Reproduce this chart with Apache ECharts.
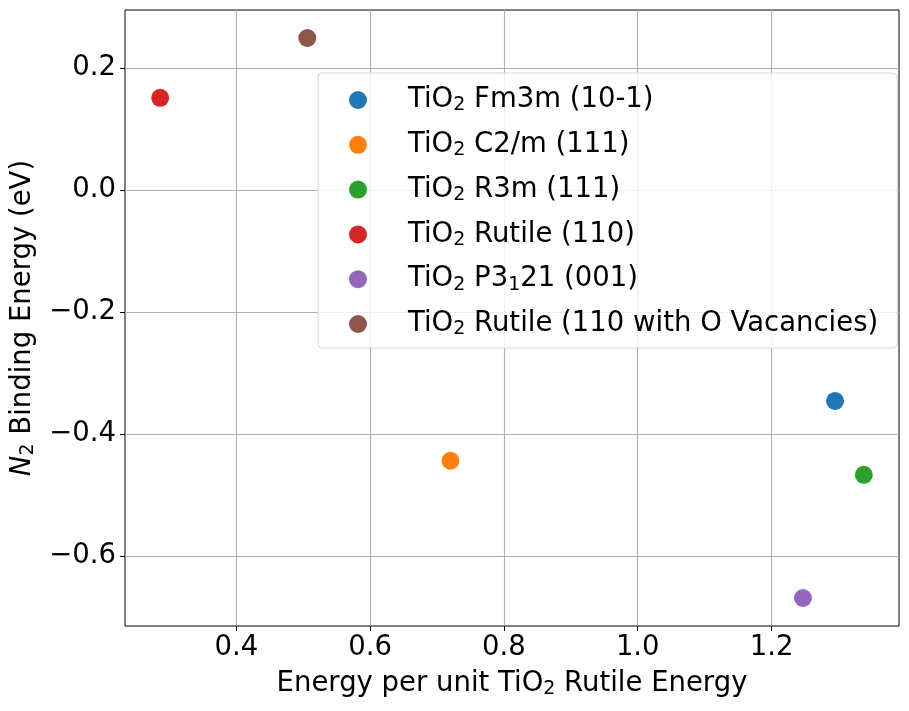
<!DOCTYPE html>
<html>
<head>
<meta charset="utf-8">
<script src="https://cdn.jsdelivr.net/npm/echarts@6/dist/echarts.min.js"></script>
<style>
  html, body { margin: 0; padding: 0; background: #fff; }
  #chart { width: 909px; height: 711px; }
</style>
</head>
<body>
<div id="chart"></div>
<script>
// one point per surface
var names = [
    'TiO₂ Fm3m (10-1)',
    'TiO₂ C2/m (111)',
    'TiO₂ R3m (111)',
    'TiO₂ Rutile (110)',
    'TiO₂ P3₁21 (001)',
    'TiO₂ Rutile (110 with O Vacancies)'
];
var energyPerUnit = [1.295, 0.720, 1.338, 0.286, 1.247, 0.506];
var bindingEnergy = [-0.346, -0.444, -0.467, 0.151, -0.669, 0.249];
var colors = ['#1f77b4', '#ff7f0e', '#2ca02c', '#d62728', '#9467bd', '#8c564b'];
var xTicks = [0.4, 0.6, 0.8, 1.0, 1.2];
var yTicks = [-0.6, -0.4, -0.2, 0.0, 0.2];

// matplotlib style 5% margins around the data
function padRange(arr) {
    var lo = Math.min.apply(null, arr), hi = Math.max.apply(null, arr);
    var m = (hi - lo) * 0.05;
    return [lo - m, hi + m];
}
var xr = padRange(energyPerUnit);
var yr = padRange(bindingEnergy);

function fmt(v) {
    return v.toFixed(1).replace('-', '\u2212');
}

// turn unicode subscripts into rich text pieces (mathtext look)
function subs(s) {
    return '{n|' + s.replace(/₂/g, '}{s|2}{n|').replace(/₁/g, '}{s|1}{n|') + '}';
}

var font = 'DejaVu Sans';
var big = 27.5;
var richSub = {
    n: { fontFamily: font, fontSize: big, color: '#000' },
    s: { fontFamily: font, fontSize: 19, lineHeight: 16, verticalAlign: 'bottom', color: '#000' },
    i: { fontFamily: font, fontSize: big, fontStyle: 'italic', color: '#000' }
};

var chart = echarts.init(document.getElementById('chart'));

var series = names.map(function (n, i) {
    return {
        name: n,
        type: 'scatter',
        symbolSize: 18,
        itemStyle: { color: colors[i], opacity: 1 },
        data: [[energyPerUnit[i], bindingEnergy[i]]]
    };
});

var option = {
    animation: false,
    backgroundColor: '#fff',
    textStyle: { fontFamily: font },
    grid: {
        left: 125, right: 10, top: 10, bottom: 85,
        show: true, borderColor: '#000', borderWidth: 1,
        backgroundColor: 'transparent'
    },
    legend: {
        orient: 'vertical',
        left: 318,
        top: 73,
        padding: [12, 19, 9, 31],
        itemGap: 14.8,
        itemWidth: 18,
        itemHeight: 18,
        icon: 'circle',
        backgroundColor: 'rgba(255,255,255,0.8)',
        borderColor: 'rgba(204,204,204,0.8)',
        borderWidth: 1,
        borderRadius: 4,
        formatter: subs,
        textStyle: {
            fontFamily: font,
            fontSize: big,
            lineHeight: 30,
            color: '#000',
            padding: [0, 0, 0, 36],
            rich: richSub
        },
        data: names
    },
    xAxis: {
        type: 'value',
        min: xr[0],
        max: xr[1],
        name: subs('Energy per unit TiO₂ Rutile Energy'),
        nameLocation: 'middle',
        nameGap: 43,
        nameTextStyle: { fontFamily: font, fontSize: big, lineHeight: 30, color: '#000', rich: richSub },
        axisLine: { show: false, onZero: false },
        axisTick: {
            show: true, length: 5, inside: false,
            customValues: xTicks,
            lineStyle: { color: '#000', width: 1 }
        },
        axisLabel: {
            customValues: xTicks,
            margin: 8,
            fontFamily: font, fontSize: big, color: '#000',
            formatter: fmt
        },
        splitLine: { show: true, lineStyle: { color: '#b0b0b0', width: 1.1 } }
    },
    yAxis: {
        type: 'value',
        min: yr[0],
        max: yr[1],
        name: '{i|N}{s|2}{n| Binding Energy (eV)}',
        nameLocation: 'middle',
        nameGap: 87,
        nameTextStyle: { fontFamily: font, fontSize: big, lineHeight: 30, color: '#000', rich: richSub },
        axisLine: { show: false, onZero: false },
        axisTick: {
            show: true, length: 5, inside: false,
            customValues: yTicks,
            lineStyle: { color: '#000', width: 1 }
        },
        axisLabel: {
            customValues: yTicks,
            margin: 9,
            fontFamily: font, fontSize: big, color: '#000',
            formatter: fmt
        },
        splitLine: { show: true, lineStyle: { color: '#b0b0b0', width: 1.1 } }
    },
    series: series
};

chart.setOption(option);
</script>
</body>
</html>
